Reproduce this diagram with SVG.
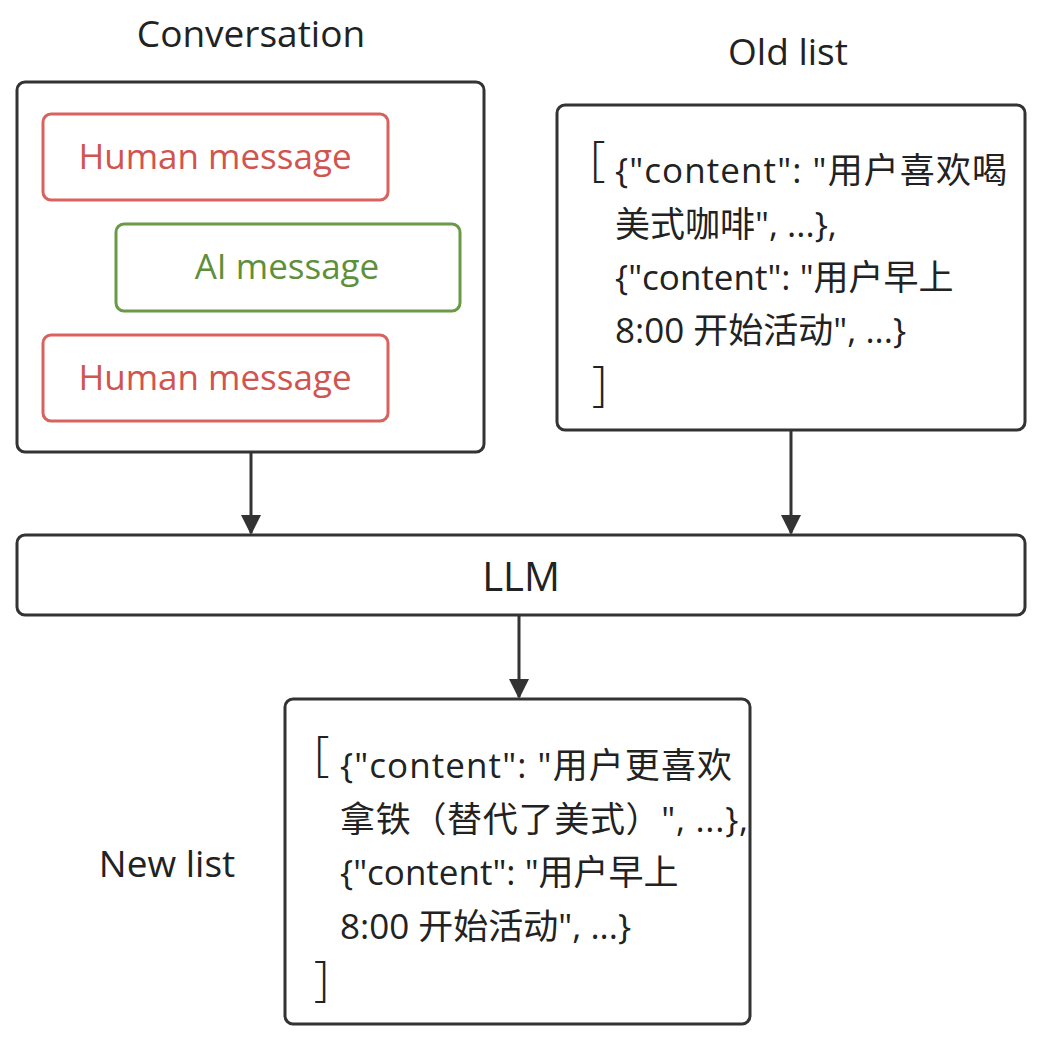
<svg xmlns="http://www.w3.org/2000/svg" width="1042" height="1050" viewBox="0 0 1042 1050">
<style>
text{font-family:"Open Sans","Noto Sans CJK SC",sans-serif;fill:#222}
.box{fill:#fff;stroke:#333;stroke-width:3}
.red{fill:#fff;stroke:#d9625e;stroke-width:3}
.grn{fill:#fff;stroke:#6a9a45;stroke-width:3}
.t{font-size:35px}
.lbl{font-size:37px;text-anchor:middle}
.br{font-size:48px;font-weight:300}
</style>
<defs><marker id="a" markerWidth="20" markerHeight="24" refX="18" refY="10" orient="auto" markerUnits="userSpaceOnUse" viewBox="0 0 20 20"><path d="M0,0L20,10L0,20z" fill="#333"/></marker></defs>
<rect width="1042" height="1050" fill="#fff"/>
<g id="conversation">
<text x="251" y="47" class="lbl">Conversation</text>
<rect x="17" y="82" width="467" height="370" rx="8" class="box"/>
</g>
<g id="human1"><rect x="43" y="114" width="345" height="86" rx="8" class="red"/><text x="215" y="169" class="lbl" style="fill:#d0544f;font-size:35px">Human message</text></g>
<g id="ai"><rect x="116" y="224" width="344" height="87" rx="8" class="grn"/><text x="287" y="279" class="lbl" style="fill:#5f8f3a;font-size:35px">AI message</text></g>
<g id="human2"><rect x="43" y="335" width="345" height="86" rx="8" class="red"/><text x="215" y="390" class="lbl" style="fill:#d0544f;font-size:35px">Human message</text></g>
<g id="oldlist">
<text x="788" y="65" class="lbl">Old list</text>
<rect x="557" y="105" width="468" height="325" rx="8" class="box"/>
<text x="590" y="175" class="br">[</text>
<text x="615" y="183" class="t" textLength="392">{"content": "用户喜欢喝</text>
<text x="615" y="237" class="t">美式咖啡", ...},</text>
<text x="615" y="290" class="t">{"content": "用户早上</text>
<text x="615" y="343" class="t">8:00 开始活动", ...}</text>
<text x="592" y="400" class="br">]</text>
</g>
<g id="llm"><rect x="17" y="535" width="1008" height="80" rx="8" class="box"/><text x="521" y="591" class="lbl" style="font-size:40px">LLM</text></g>
<g id="newlist">
<text x="167" y="877" class="lbl">New list</text>
<rect x="285" y="699" width="465" height="325" rx="8" class="box"/>
<text x="314" y="770" class="br">[</text>
<text x="340" y="778" class="t" textLength="392">{"content": "用户更喜欢</text>
<text x="340" y="832" class="t" textLength="408">拿铁（替代了美式）", ...},</text>
<text x="340" y="885" class="t">{"content": "用户早上</text>
<text x="340" y="939" class="t">8:00 开始活动", ...}</text>
<text x="314" y="995" class="br">]</text>
</g>
<g id="connectors" stroke="#333" stroke-width="3" fill="none">
<line x1="251" y1="452" x2="251" y2="533" marker-end="url(#a)"/>
<line x1="791" y1="430" x2="791" y2="533" marker-end="url(#a)"/>
<line x1="519" y1="615" x2="519" y2="697" marker-end="url(#a)"/>
</g>
</svg>
